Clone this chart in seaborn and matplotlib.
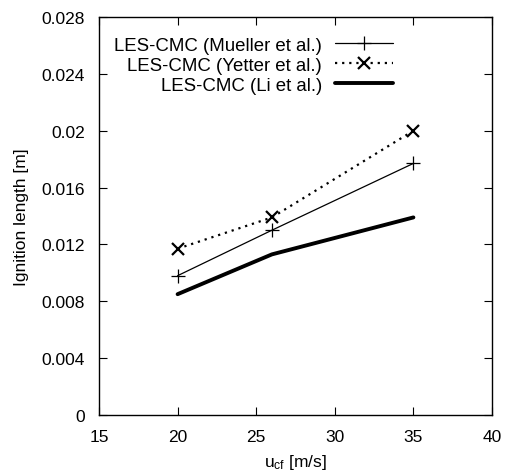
import matplotlib
matplotlib.use("Agg")
import matplotlib.pyplot as plt
import seaborn as sns
import pandas as pd

u_cf = [20, 26, 35]
mueller = [0.0098, 0.0130, 0.0177]
yetter = [0.0117, 0.0139, 0.0200]
li = [0.0085, 0.0113, 0.0139]
labels = ["LES-CMC (Mueller et al.)", "LES-CMC (Yetter et al.)", "LES-CMC (Li et al.)"]
xticks = [15, 20, 25, 30, 35, 40]
yticks = [0, 0.004, 0.008, 0.012, 0.016, 0.02, 0.024, 0.028]
ytick_labels = ["0", "0.004", "0.008", "0.012", "0.016", "0.02", "0.024", "0.028"]

sns.set_theme(style="ticks")
plt.rcParams["font.family"] = ["Liberation Sans", "DejaVu Sans"]
plt.rcParams["mathtext.fontset"] = "custom"
plt.rcParams["mathtext.rm"] = "Liberation Sans"
plt.rcParams["mathtext.it"] = "Liberation Sans"
plt.rcParams["text.color"] = "black"
plt.rcParams["axes.labelcolor"] = "black"
plt.rcParams["xtick.color"] = "black"
plt.rcParams["ytick.color"] = "black"
FS = 12.5
LFS = 13.4

fig = plt.figure(figsize=(5.1, 4.77), dpi=100)
ax = fig.add_axes([99/510, 1-416/477, (492-99)/510, (416-18)/477])

df_m = pd.DataFrame({"u": u_cf, "L": mueller})
df_y = pd.DataFrame({"u": u_cf, "L": yetter})
df_l = pd.DataFrame({"u": u_cf, "L": li})

sns.lineplot(data=df_m, x="u", y="L", ax=ax, color="black", lw=0.9,
             marker="+", markersize=10, markeredgewidth=0.9,
             markeredgecolor="black", label=labels[0])
sns.lineplot(data=df_y, x="u", y="L", ax=ax, color="black", lw=1.6,
             linestyle=(0, (1, 2.2)), marker="x", markersize=9,
             markeredgewidth=1.6, markeredgecolor="black", label=labels[1])
sns.lineplot(data=df_l, x="u", y="L", ax=ax, color="black", lw=2.8,
             label=labels[2])

ax.set_xlim(15, 40)
ax.set_ylim(0, 0.028)
ax.set_xticks(xticks)
ax.set_xticklabels([str(t) for t in xticks], fontsize=FS)
ax.set_yticks(yticks)
ax.set_yticklabels(ytick_labels, fontsize=FS)
ax.tick_params(direction="in", length=6, width=0.8, top=True, right=True,
               pad=10, colors="black")
for s in ax.spines.values():
    s.set_color("black")
    s.set_linewidth(1.0)

ax.set_xlabel(r"u$_{\rm cf}$ [m/s]", fontsize=FS, labelpad=6)
ax.set_ylabel("Ignition length [m]", fontsize=FS, labelpad=9)

leg = ax.legend(loc="upper right", bbox_to_anchor=(0.748, 0.951),
                markerfirst=False, frameon=False, fontsize=LFS,
                handlelength=3.1, handletextpad=0.7, labelspacing=0.16,
                borderaxespad=0, borderpad=0)

fig.savefig("out.png", dpi=100)
